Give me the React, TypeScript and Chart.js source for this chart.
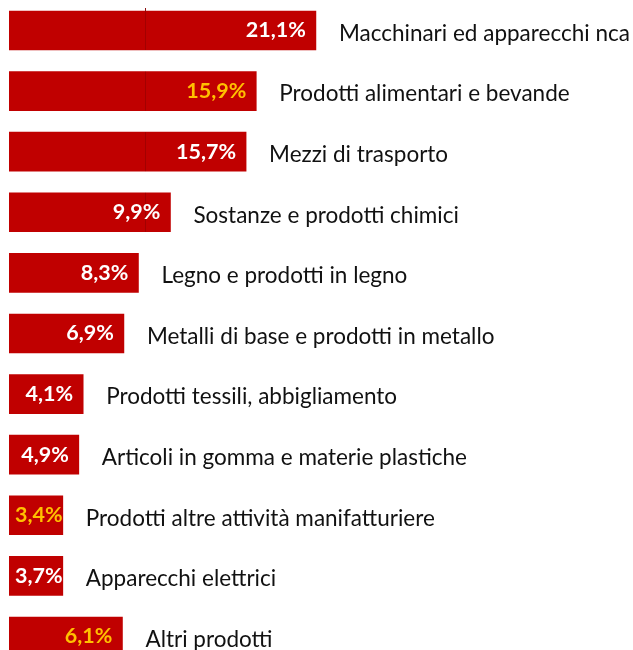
import React, { useEffect, useRef } from "react";
import { Chart, registerables } from "chart.js";

Chart.register(...registerables);

const categories = [
  "Macchinari ed apparecchi nca",
  "Prodotti alimentari e bevande",
  "Mezzi di trasporto",
  "Sostanze e prodotti chimici",
  "Legno e prodotti in legno",
  "Metalli di base e prodotti in metallo",
  "Prodotti tessili, abbigliamento",
  "Articoli in gomma e materie plastiche",
  "Prodotti altre attività manifatturiere",
  "Apparecchi elettrici",
  "Altri prodotti",
];

// bar lengths as drawn in the picture (percent units)
const barValues = [21.1, 17.0, 16.3, 11.1, 8.9, 7.9, 5.1, 4.8, 3.7, 3.7, 7.8];

const valueLabels = [
  "21,1%", "15,9%", "15,7%", "9,9%", "8,3%", "6,9%",
  "4,1%", "4,9%", "3,4%", "3,7%", "6,1%",
];

const highlightedLabels = [1, 8, 10];

const referenceLine = 9.35;

const BAR_COLOR = "#C00000";
const WHITE = "#FFFFFF";
const GOLD = "#FFC000";

const labelPlugin = {
  id: "labelPlugin",
  afterDatasetsDraw(chart: any) {
    const ctx = chart.ctx;
    const meta = chart.getDatasetMeta(0);
    const xs = chart.scales.x;
    const refX = Math.round(xs.getPixelForValue(referenceLine)) + 0.5;
    ctx.save();
    const first = meta.data[0];
    if (first) {
      const top = first.y - first.height / 2;
      ctx.strokeStyle = "#8a1010";
      ctx.lineWidth = 1;
      ctx.beginPath();
      ctx.moveTo(refX, 8);
      ctx.lineTo(refX, top);
      ctx.stroke();
    }
    meta.data.forEach((bar: any) => {
      if (bar.x > refX) {
        ctx.strokeStyle = "rgba(110,0,0,0.35)";
        ctx.lineWidth = 1;
        ctx.beginPath();
        ctx.moveTo(refX, bar.y - bar.height / 2);
        ctx.lineTo(refX, bar.y + bar.height / 2);
        ctx.stroke();
      }
    });
    meta.data.forEach((bar: any, i: number) => {
      ctx.textBaseline = "middle";
      ctx.font = "bold 21.5px Lato, 'Open Sans', sans-serif";
      ctx.textAlign = "right";
      ctx.fillStyle = highlightedLabels.includes(i) ? GOLD : WHITE;
      const w = ctx.measureText(valueLabels[i]).width;
      const right = Math.max(bar.x - 10, bar.base + w + 6);
      ctx.fillText(valueLabels[i], right, bar.y);
      ctx.font = "22.5px Lato, 'Open Sans', sans-serif";
      ctx.textAlign = "left";
      ctx.fillStyle = "#111111";
      ctx.fillText(categories[i], bar.x + 23, bar.y + 3);
    });
    ctx.restore();
  },
};

export default function App() {
  const canvasRef = useRef<HTMLCanvasElement | null>(null);

  useEffect(() => {
    if (!canvasRef.current) return;
    const chart = new Chart(canvasRef.current, {
      type: "bar",
      data: {
        datasets: [
          {
            data: barValues.map((v, i) => ({ x: v, y: i })),
            backgroundColor: BAR_COLOR,
            borderWidth: 0,
            barThickness: 39,
          },
        ],
      },
      options: {
        indexAxis: "y",
        animation: false,
        responsive: false,
        maintainAspectRatio: false,
        layout: { padding: { left: 9, right: 0, top: 0, bottom: 0 } },
        plugins: {
          legend: { display: false },
          tooltip: { enabled: false },
        },
        scales: {
          x: { type: "linear", display: false, min: 0, max: 42.9 },
          y: {
            type: "linear",
            display: false,
            reverse: true,
            offset: false,
            grace: 0,
            min: -0.503,
            max: 10.223,
          },
        },
      } as any,
      plugins: [labelPlugin],
    });
    return () => chart.destroy();
  }, []);

  return (
    <div style={{ position: "absolute", left: 0, top: 0, width: 633, height: 650, overflow: "hidden", background: "#fff" }}>
      <canvas ref={canvasRef} width={633} height={650} style={{ display: "block", width: 633, height: 650 }} />
    </div>
  );
}
